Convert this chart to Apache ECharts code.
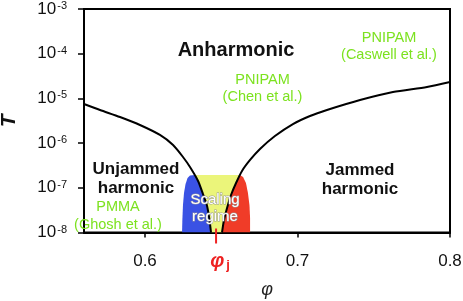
<!DOCTYPE html>
<html><head><meta charset="utf-8">
<script src="https://cdn.jsdelivr.net/npm/echarts@6/dist/echarts.min.js"></script>
<style>html,body{margin:0;padding:0;background:#fff}#c{width:463px;height:301px}</style>
</head><body><div id="c"></div>
<script>
// ---- data ----
const xTicks = [0.6, 0.7, 0.8];
const xTickLabels = ['0.6', '0.7', '0.8'];
const yMin = 1e-8, yMax = 1e-3;
const phiJ = 0.6466;
const leftCurvePhi = [0.56, 0.5705, 0.5836, 0.5967, 0.6098, 0.6184, 0.6249, 0.6295, 0.6348, 0.6380, 0.6407, 0.6423, 0.6433];
const leftCurveT   = [7.5e-6, 5.5e-6, 3.84e-6, 2.54e-6, 1.52e-6, 9.06e-7, 4.89e-7, 2.92e-7, 1.42e-7, 7.26e-8, 3.92e-8, 1.9e-8, 1e-8];
const rightCurvePhi = [0.6505, 0.6518, 0.6538, 0.6564, 0.6597, 0.6636, 0.6689, 0.6754, 0.6852, 0.6970, 0.7082, 0.7193, 0.7410, 0.7626, 0.7849, 0.80];
const rightCurveT   = [1e-8, 1.9e-8, 3.53e-8, 6.9e-8, 1.28e-7, 2.38e-7, 4.19e-7, 7.38e-7, 1.44e-6, 2.67e-6, 4.04e-6, 5.5e-6, 9.2e-6, 1.39e-5, 1.80e-5, 2.33e-5];
const regionTop = 1.93e-7;
const blueOuterPhi = [0.6243, 0.6245, 0.6249, 0.6256, 0.6266, 0.6279, 0.6295, 0.6325];
const blueOuterT   = [1e-8, 1.9e-8, 4.1e-8, 7.7e-8, 1.22e-7, 1.66e-7, 1.88e-7, 1.93e-7];
const redOuterPhi  = [0.6623, 0.6643, 0.6662, 0.6675, 0.6685, 0.6689, 0.6689];
const redOuterT    = [1.93e-7, 1.75e-7, 1.28e-7, 7.66e-8, 4.12e-8, 2.1e-8, 1e-8];

// ---- build ----
const zip = (a, b) => a.map((v, i) => [v, b[i]]);
const leftCurve = zip(leftCurvePhi, leftCurveT);
const rightCurve = zip(rightCurvePhi, rightCurveT);
const leftLow = leftCurve.filter(p => p[1] < regionTop);      // descending T
const rightLow = rightCurve.filter(p => p[1] < regionTop);    // ascending T
const bluePoly = zip(blueOuterPhi, blueOuterT).concat(leftLow);
const redPoly = zip(redOuterPhi, redOuterT).concat(rightLow);
const yellowPoly = [[blueOuterPhi[blueOuterPhi.length - 1], regionTop], [redOuterPhi[0], regionTop]]
  .concat(rightLow.slice().reverse()).concat(leftLow.slice().reverse());

const FONT = '"Liberation Sans", Arial, sans-serif';
function poly(points, color) {
  return {
    type: 'custom', coordinateSystem: 'cartesian2d', data: points, z: 1, silent: true, clip: true,
    renderItem: (params, api) => params.dataIndex === 0 ? {
      type: 'polygon', shape: { points: points.map(p => api.coord(p)) }, style: { fill: color }
    } : null
  };
}
function curve(points) {
  return { type: 'line', data: points, showSymbol: false, symbol: 'none', smooth: 0.25, z: 3, silent: true,
    lineStyle: { color: '#000', width: 2 }, clip: true };
}

const chart = echarts.init(document.getElementById('c'), null, { renderer: 'canvas' });
chart.setOption({
  animation: false,
  backgroundColor: '#fff',
  grid: { left: 84, right: 13, top: 9, bottom: 68.5, show: true, borderColor: '#000', borderWidth: 2,
    backgroundColor: 'transparent', containLabel: false, outerBoundsMode: 'none' },
  xAxis: {
    type: 'value', min: 0.56, max: 0.8,
    name: 'φ', nameLocation: 'middle', nameGap: 48,
    nameTextStyle: { fontFamily: FONT, fontSize: 18, fontStyle: 'italic', color: '#222' },
    axisLine: { lineStyle: { color: '#000', width: 2 } },
    axisTick: { show: true, length: 5, lineStyle: { color: '#000', width: 1.5 }, customValues: xTicks },
    axisLabel: { customValues: xTicks, formatter: v => xTickLabels[xTicks.findIndex(t => Math.abs(t - v) < 1e-9)] ?? '',
      fontFamily: FONT, fontSize: 17, color: '#111', margin: 20 },
    splitLine: { show: false }
  },
  yAxis: {
    type: 'log', logBase: 10, min: yMin, max: yMax,
    name: 'T', nameLocation: 'middle', nameGap: 64,
    nameTextStyle: { fontFamily: FONT, fontSize: 21, fontStyle: 'italic', fontWeight: 'bold', color: '#111' },
    axisLine: { show: true, lineStyle: { color: '#000', width: 2 } },
    axisTick: { show: true, length: 6, lineStyle: { color: '#000', width: 1.5 } },
    minorTick: { show: false },
    axisLabel: {
      margin: 17, color: '#111',
      formatter: v => '{b|10}{s|' + Math.round(Math.log10(v)) + '}',
      rich: {
        b: { fontFamily: FONT, fontSize: 17, color: '#111', verticalAlign: 'bottom', lineHeight: 17 },
        s: { fontFamily: FONT, fontSize: 11, color: '#111', verticalAlign: 'top', lineHeight: 11, padding: [0, 0, 9, 1] }
      }
    },
    splitLine: { show: false }
  },
  series: [
    poly(bluePoly, '#3a52e4'),
    poly(yellowPoly, '#ebf57a'),
    poly(redPoly, '#f03c28'),
    curve(leftCurve),
    curve(rightCurve)
  ]
});

const green = '#7ce21f';
function txt(x, y, text, font, fill, extra) {
  return Object.assign({ type: 'text', x: x, y: y, z: 100, silent: true,
    style: Object.assign({ text: text, font: font, fill: fill, align: 'center', verticalAlign: 'middle' }, extra || {}) });
}
const pj = chart.convertToPixel({ xAxisIndex: 0 }, phiJ);
const pb = chart.convertToPixel({ yAxisIndex: 0 }, yMin);
chart.setOption({
  graphic: [
    txt(236, 50, 'Anharmonic', 'bold 20px ' + FONT, '#111'),
    txt(136, 179, 'Unjammed\nharmonic', 'bold 17px ' + FONT, '#111', { lineHeight: 19 }),
    txt(360, 180, 'Jammed\nharmonic', 'bold 17px ' + FONT, '#111', { lineHeight: 19 }),
    txt(118, 216, 'PMMA\n(Ghosh et al.)', '14.5px ' + FONT, green, { lineHeight: 18 }),
    txt(262.5, 88, 'PNIPAM\n(Chen et al.)', '14.5px ' + FONT, green, { lineHeight: 17 }),
    txt(389, 46, 'PNIPAM\n(Caswell et al.)', '14.5px ' + FONT, green, { lineHeight: 17 }),
    txt(215, 208, 'Scaling\nregime', '15px ' + FONT, '#fff', { lineHeight: 17, stroke: '#9a9a9a', lineWidth: 1 }),
    { type: 'line', z: 100, silent: true, shape: { x1: pj, y1: pb - 4, x2: pj, y2: pb + 11 }, style: { stroke: '#ee2222', lineWidth: 2 } },
    { type: 'text', z: 100, silent: true, x: pj + 4, y: pb + 29,
      style: { text: '{p|φ}{j|j}', align: 'center', verticalAlign: 'middle',
        rich: { p: { font: 'bold italic 20px ' + FONT, fill: '#ee2222', verticalAlign: 'top', lineHeight: 20 },
                j: { font: 'bold 13px ' + FONT, fill: '#ee2222', verticalAlign: 'bottom', lineHeight: 13, padding: [10, 0, 0, 2] } } } }
  ]
});
</script></body></html>
